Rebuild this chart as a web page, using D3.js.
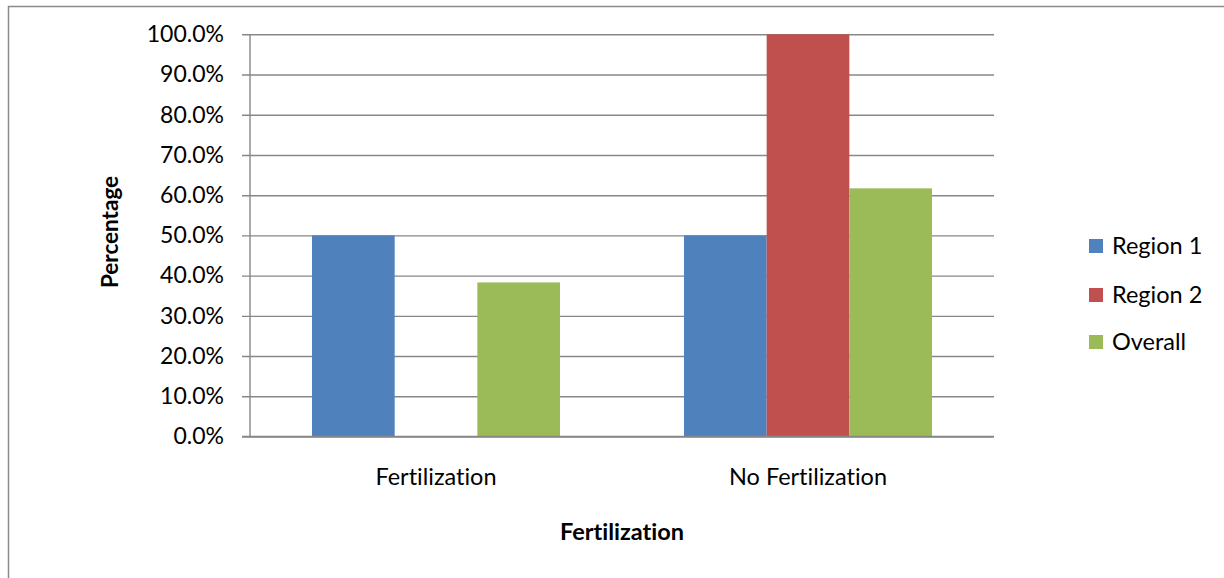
<!DOCTYPE html>
<html>
<head>
<meta charset="utf-8">
<script src="https://cdn.jsdelivr.net/npm/d3@7"></script>
<style>
  html, body { margin: 0; padding: 0; background: #fff; }
  svg { display: block; }
  text { font-family: Lato, "Open Sans", sans-serif; fill: #000; font-variant-ligatures: none; }
</style>
</head>
<body>
<svg id="chart" width="1224" height="578"></svg>
<script>
const categories = ["Fertilization", "No Fertilization"];
const seriesNames = ["Region 1", "Region 2", "Overall"];
const region1 = [0.50, 0.50];
const region2 = [0.00, 1.00];
const overall = [0.383, 0.617];
const yTicks = [0, 0.1, 0.2, 0.3, 0.4, 0.5, 0.6, 0.7, 0.8, 0.9, 1.0];
const colors = ["#4F81BD", "#C0504D", "#9BBB59"];
const xTitle = "Fertilization";
const yTitle = "Percentage";

const seriesValues = [region1, region2, overall];
const svg = d3.select("#chart");

// outer chart frame (extends beyond the image on right and bottom)
svg.append("rect")
  .attr("x", 8.5).attr("y", 6.5)
  .attr("width", 1300).attr("height", 700)
  .attr("fill", "none").attr("stroke", "#8a8a8a").attr("stroke-width", 1.5);

const plot = { left: 250, right: 994, top: 34.3, bottom: 436.5 };

const y = d3.scaleLinear().domain([0, 1]).range([plot.bottom, plot.top]);
const x0 = d3.scaleBand().domain(categories).range([plot.left, plot.right]).paddingInner(0).paddingOuter(0);
// gap width 150% => bar width = band / (3 + 1.5)
const x1 = d3.scaleBand().domain(seriesNames)
  .range([0, x0.bandwidth()]).paddingInner(0).paddingOuter(0.75);

// gridlines + y axis
const yAxis = d3.axisLeft(y).tickValues(yTicks).tickFormat(d3.format(".1%"))
  .tickSize(-(plot.right - plot.left + 8)).tickPadding(18);
const gy = svg.append("g").attr("transform", `translate(${plot.left - 8},0)`).call(yAxis);
gy.select(".domain").remove();
gy.selectAll(".tick line").attr("stroke", "#878787").attr("stroke-width", 1.4);
gy.selectAll(".tick text").attr("font-size", 23).attr("fill", "#000")
  .style("font-family", "Lato, 'Open Sans', sans-serif");

// bars
const groups = svg.append("g").selectAll("g")
  .data(categories).join("g")
  .attr("transform", d => `translate(${x0(d)},0)`);
groups.selectAll("rect")
  .data((c, ci) => seriesNames.map((s, si) => ({ s, si, v: seriesValues[si][ci] })))
  .join("rect")
  .attr("x", d => x1(d.s))
  .attr("width", x1.bandwidth())
  .attr("y", d => y(d.v))
  .attr("height", d => y(0) - y(d.v))
  .attr("fill", d => colors[d.si]);

// y axis line
svg.append("line")
  .attr("x1", plot.left).attr("x2", plot.left)
  .attr("y1", plot.top).attr("y2", plot.bottom + 0.7)
  .attr("stroke", "#878787").attr("stroke-width", 1.4);
// x axis baseline
svg.append("line")
  .attr("x1", plot.left - 8).attr("x2", plot.right)
  .attr("y1", plot.bottom).attr("y2", plot.bottom)
  .attr("stroke", "#878787").attr("stroke-width", 1.4);

// x category labels
svg.append("g").selectAll("text")
  .data(categories).join("text")
  .attr("x", d => x0(d) + x0.bandwidth() / 2)
  .attr("y", 485)
  .attr("text-anchor", "middle")
  .attr("font-size", 23.5)
  .text(d => d);

// axis titles
svg.append("text")
  .attr("x", (plot.left + plot.right) / 2).attr("y", 540)
  .attr("text-anchor", "middle").attr("font-size", 23.5).attr("font-weight", "bold")
  .text(xTitle);
svg.append("text")
  .attr("transform", "translate(118,232) rotate(-90)")
  .attr("text-anchor", "middle").attr("font-size", 22.5).attr("font-weight", "bold")
  .text(yTitle);

// legend
const legendY = [246, 295, 342];
const lg = svg.append("g").selectAll("g")
  .data(seriesNames).join("g")
  .attr("transform", (d, i) => `translate(1089,${legendY[i]})`);
lg.append("rect")
  .attr("x", 0).attr("y", -7).attr("width", 14).attr("height", 14)
  .attr("fill", (d, i) => colors[i]);
lg.append("text")
  .attr("x", 23).attr("y", 0).attr("dy", "0.35em")
  .attr("font-size", 23.5)
  .text(d => d);
</script>
</body>
</html>
